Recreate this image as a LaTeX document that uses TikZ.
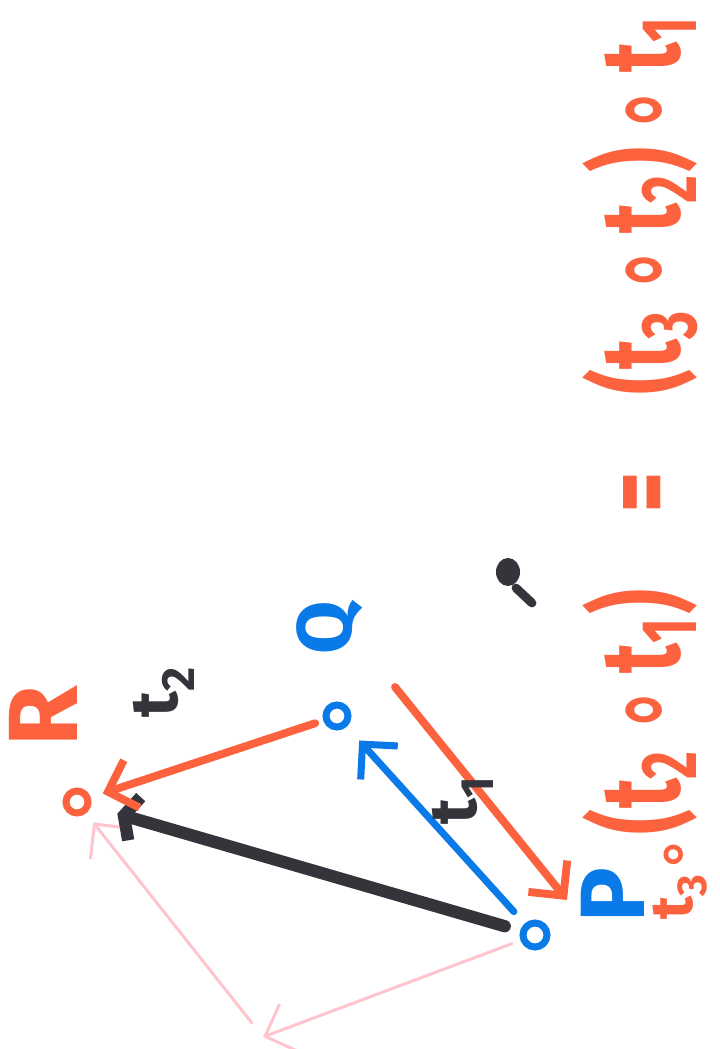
\documentclass[tikz,border=0pt]{standalone}
\usepackage{fontspec}
\setmainfont{Fira Sans}
\newfontfamily\opfont{DejaVu Sans}
\usetikzlibrary{arrows.meta}
\definecolor{hdorange}{RGB}{252,98,62}
\definecolor{hdblue}{RGB}{10,122,232}
\definecolor{hdblack}{RGB}{52,52,58}
\definecolor{hdpink}{RGB}{255,196,206}
\newcommand{\comp}{{\opfont\bfseries ∘}}
\newcommand{\tn}[1]{t\textsubscript{#1}}

\begin{document}
\begin{tikzpicture}[x=0.02cm,y=-0.02cm,
        pt/.style={circle,line width=4pt,minimum size=0.48cm,inner sep=0pt},
        lbl/.style={rotate=90,inner sep=0pt,font=\bfseries\fontsize{52}{52}\selectfont},
        tlab/.style={rotate=90,inner sep=0pt,text=hdblack,font=\bfseries\fontsize{38}{38}\selectfont},
        a/.style={-{Straight Barb[length=0.5cm,width=1.0cm]},line cap=round,line join=round}]
        \fill[white] (0,0) rectangle (720,1049);
        \useasboundingbox (0,0) rectangle (720,1049);
        % points
        \node[pt,draw=hdblue] (P) at (535,935) {};
        \node[pt,draw=hdblue,minimum size=0.44cm] (Q) at (337,716) {};
        \node[pt,draw=hdorange,minimum size=0.44cm] (R) at (77,802) {};
        \node[lbl,text=hdblue] (Plab) at (613,895) {P};
        \node[lbl,text=hdblue,font=\bfseries\fontsize{44}{44}\selectfont] (Qlab) at (330,628) {Q};
        \node[lbl,text=hdorange,font=\bfseries\fontsize{56}{56}\selectfont] (Rlab) at (43,716) {R};
        % free ends
        \coordinate (t3a) at (395,687);
        \coordinate (t3b) at (567,900);
        \coordinate (corner) at (263,1037);
        % arrows
        \draw[a,hdpink,line width=1.7pt,shorten <=0.18cm] (P) -- (corner);
        \draw[a,hdpink,line width=1.7pt,shorten <=0.36cm,shorten >=0.23cm] (corner) -- (R);
        \draw[a,hdblack,line width=7pt,shorten <=0.32cm,shorten >=0.55cm,
          -{Straight Barb[length=0.22cm,width=0.9cm]}] (P) -- (R);
        \draw[a,hdblue,line width=4pt,shorten <=0.32cm,shorten >=0.37cm] (P) -- (Q);
        \draw[a,hdorange,line width=4.5pt,shorten <=0.17cm,shorten >=0.25cm] (Q) -- (R);
        \draw[a,hdorange,line width=4.5pt] (t3a) -- (t3b);
        \node[tlab] (lt2) at (164,692) {\tn2};
        \node[tlab] (lt1) at (463,800) {\tn1};
        % stray mark
        \fill[hdblack] (508,572) ellipse (12 and 14);
        \draw[hdblack,line width=5pt,line cap=round] (516,588) -- (532,603);
        % equation
        \node[rotate=90,inner sep=0pt,text=hdorange,font=\bfseries\fontsize{34}{34}\selectfont]
          (eqa) at (680,878) {\tn3\comp};
        \node[rotate=90,inner sep=0pt,text=hdorange] (eqb) at (640,424)
          {\resizebox*{16.4cm}{2.3cm}{\bfseries (\tn2\,\comp\,\tn1)\quad=\quad(\tn3\,\comp\,\tn2)\,\comp\,\tn1}};
\end{tikzpicture}
\end{document}
